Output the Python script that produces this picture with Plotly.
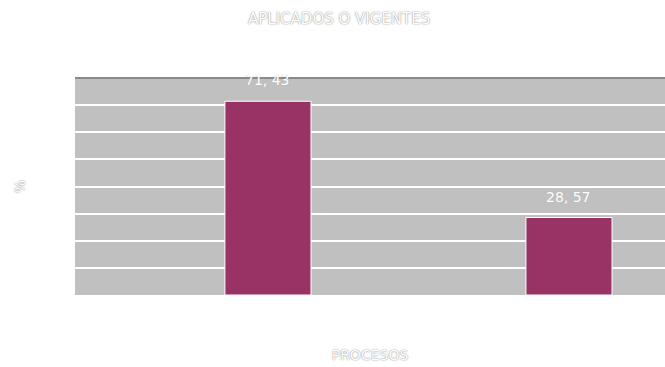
import plotly.graph_objects as go

categories = ["A", "B"]
values = [71.43, 28.57]
title_text = "APLICADOS O VIGENTES"
x_title = "PROCESOS"
y_title = "%"

shadow = "0px 0px 1.5px #666"
font_family = "DejaVu Sans, Verdana, sans-serif"

fig = go.Figure()
fig.add_trace(go.Bar(
    x=categories, y=values,
    marker=dict(color="#993366", line=dict(color="#ffffff", width=1)),
    width=0.286,
))
for c, v in zip(categories, values):
    fig.add_annotation(x=c, y=v, text=f"{v:.2f}".replace(".", ", "), showarrow=False,
                       yshift=21, font=dict(color="white", size=14, family=font_family, shadow="0px 0px 1px #aaa"))

fig.add_shape(type="line", xref="paper", yref="paper", x0=0, x1=1, y0=1, y1=1,
              line=dict(color="#8a8a8a", width=2))

fig.update_layout(
    width=665, height=367,
    margin=dict(l=75, r=0, t=78, b=72),
    paper_bgcolor="white", plot_bgcolor="#c0c0c0",
    separators=",.",
    showlegend=False,
    font=dict(family=font_family, color="white"),
    title=dict(text=title_text, x=0.51, xanchor="center", y=0.95, yanchor="middle",
               font=dict(size=15, color="white", shadow=shadow)),
    xaxis=dict(range=[-0.641, 1.319], showticklabels=False, showgrid=False, zeroline=False,
               title=dict(text=x_title, standoff=55, font=dict(size=14, color="white", shadow=shadow))),
    yaxis=dict(range=[0, 80], dtick=10, showticklabels=False, gridcolor="white", gridwidth=1.5,
               zeroline=False,
               title=dict(text=y_title, standoff=45, font=dict(size=14, color="white", shadow=shadow))),
)
fig.write_html("out.html")
